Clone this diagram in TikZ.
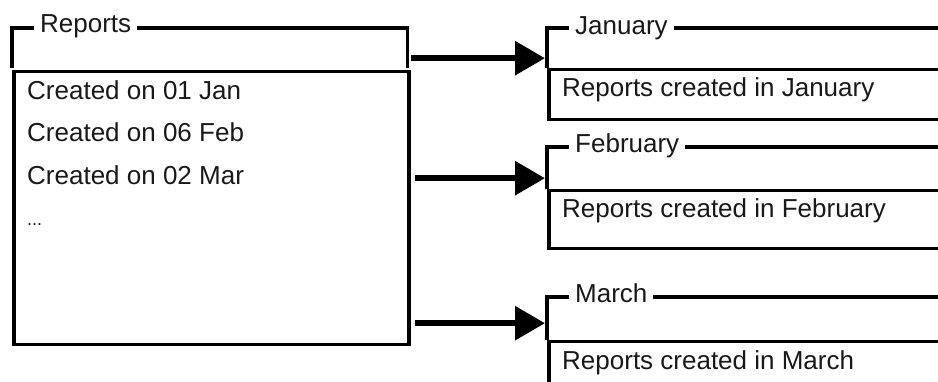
\documentclass[tikz,border=0pt]{standalone}
\usepackage{fontspec}
\setmainfont{Liberation Sans}
\usetikzlibrary{arrows.meta}
\begin{document}
\begin{tikzpicture}[x=1pt,y=-1pt,
  frame/.style={line width=3.5pt, line join=miter},
  panel/.style={draw, line width=3.5pt, anchor=north west, inner sep=0pt},
  hdr/.style={anchor=north west, inner sep=0pt},
  title/.style={fill=white, inner xsep=6pt, inner ysep=1pt, anchor=base west,
    text=black!90, font=\fontsize{26}{30}\selectfont},
  item/.style={anchor=base west, inner sep=0pt, text=black!90,
    font=\fontsize{26}{30}\selectfont},
  link/.style={line width=6pt, -{Triangle[length=30pt,width=33pt]},
    shorten <=4pt, shorten >=2pt}
]
\useasboundingbox (0,0) rectangle (938,382);
\clip (0,0) rectangle (938,382);

% source panel: header frame and list of reports
\node[hdr, minimum width=395pt, minimum height=40pt] (rh) at (12,28) {};
\draw[frame] (rh.south west) |- (rh.north east) -- (rh.south east);
\node[title] (rt) at (34,33) {Reports};
\node[panel, minimum width=395pt, minimum height=273pt] (rl) at (12,70) {};
\node[item] (i1) at (27,100) {Created on 01 Jan};
\node[item] (i2) at (27,142) {Created on 06 Feb};
\node[item] (i3) at (27,185) {Created on 02 Mar};
\node[item, font=\fontsize{18}{20}\selectfont] (i4) at (27,226) {...};

% January panel
\node[hdr, minimum width=420pt, minimum height=40pt] (jh) at (547,28) {};
\draw[frame] (jh.south west) |- (jh.north east) -- (jh.south east);
\node[title] (jt) at (569,35) {January};
\node[panel, minimum width=420pt, minimum height=50pt] (jl) at (547,68) {};
\node[item] (jx) at (562,97) {Reports created in January};

% February panel
\node[hdr, minimum width=420pt, minimum height=42pt] (fh) at (547,147) {};
\draw[frame] (fh.south west) |- (fh.north east) -- (fh.south east);
\node[title] (ft) at (569,153) {February};
\node[panel, minimum width=420pt, minimum height=58pt] (fl) at (547,189) {};
\node[item] (fx) at (562,218) {Reports created in February};

% March panel
\node[hdr, minimum width=420pt, minimum height=43pt] (mh) at (547,297) {};
\draw[frame] (mh.south west) |- (mh.north east) -- (mh.south east);
\node[title] (mt) at (569,303) {March};
\node[panel, minimum width=420pt, minimum height=60pt] (ml) at (547,340) {};
\node[item] (mx) at (562,370) {Reports created in March};

% arrows from the source panel into the monthly panels
\coordinate (jin) at ([yshift=-10pt]jh.west);
\coordinate (fin) at ([yshift=-10pt]fh.west);
\coordinate (min) at ([yshift=-4.5pt]mh.west);
\draw[link] (jin -| rh.east) -- (jin);
\draw[link] (fin -| rl.east) -- (fin);
\draw[link] (min -| rl.east) -- (min);
\end{tikzpicture}
\end{document}
